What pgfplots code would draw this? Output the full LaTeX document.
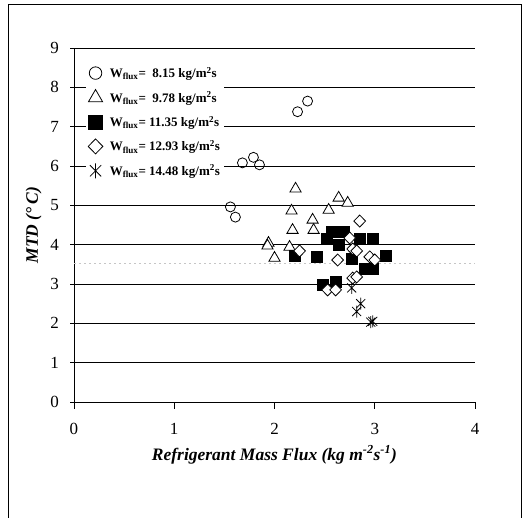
\documentclass[border=0pt]{standalone}
\usepackage{fontspec}
\setmainfont{Liberation Serif}
\usepackage{pgfplots}
\pgfplotsset{compat=1.18}
\pgfdeclareplotmark{xstar}{%
  \pgfpathmoveto{\pgfqpoint{0pt}{\pgfplotmarksize}}%
  \pgfpathlineto{\pgfqpoint{0pt}{-\pgfplotmarksize}}%
  \pgfpathmoveto{\pgfqpoint{-0.75\pgfplotmarksize}{0.75\pgfplotmarksize}}%
  \pgfpathlineto{\pgfqpoint{0.75\pgfplotmarksize}{-0.75\pgfplotmarksize}}%
  \pgfpathmoveto{\pgfqpoint{-0.75\pgfplotmarksize}{-0.75\pgfplotmarksize}}%
  \pgfpathlineto{\pgfqpoint{0.75\pgfplotmarksize}{0.75\pgfplotmarksize}}%
  \pgfusepathqstroke}
\begin{document}
\begin{tikzpicture}[x=1pt,y=1pt]
\begin{axis}[
  at={(0,0)}, anchor=south west,
  scale only axis, width=401pt, height=354pt,
  xmin=0, xmax=4, ymin=0, ymax=9,
  axis x line=bottom, axis y line=left,
  axis line style={-, black, line width=0.8pt},
  xtick={0,1,2,3,4}, ytick={0,1,...,9},
  ymajorgrids, grid style={black, line width=0.8pt},
  tick style={black, line width=0.8pt},
  major tick length=7pt,
  xtick align=outside, ytick align=center,
  tick label style={font=\fontsize{17}{17}\selectfont},
  /pgf/number format/assume math mode=true,
  xticklabel style={yshift=-11pt},
  yticklabel style={xshift=-8pt},
  xlabel={\textbf{\textit{Refrigerant Mass Flux (kg m\textsuperscript{-2}s\textsuperscript{-1})}}},
  ylabel={\textbf{\textit{MTD (\textdegree\,C)}}},
  label style={font=\fontsize{17.5}{17.5}\selectfont},
  xlabel style={yshift=-4pt},
  ylabel style={yshift=2pt},
  legend style={at={(axis cs:0.12,8.62)}, anchor=north west, draw=none, fill=white,
    font=\fontsize{13}{13}\selectfont\bfseries, row sep=8.5pt, inner sep=2pt},
  legend image post style={scale=1.25},
  legend cell align=left,
  clip=false,
]
\addplot[gray!45, line width=0.8pt, dash pattern=on 2pt off 3pt, forget plot] coordinates {(0,3.52) (4,3.52)};
\addplot[only marks, mark=o, mark size=5pt, mark options={black, fill=white, line width=0.8pt}] coordinates {
(1.56,4.96) (1.61,4.70) (1.68,6.08) (1.79,6.22) (1.85,6.03) (2.23,7.38) (2.33,7.65)
};
\addlegendentry{\hspace{5pt}W\textsubscript{flux}=~~8.15 kg/m\textsuperscript{2}s}
\addplot[only marks, mark=triangle*, mark size=6.5pt, mark options={black, fill=white, line width=0.8pt}] coordinates {
(2.21,5.42) (2.17,4.86) (2.18,4.37) (2.38,4.63) (2.39,4.37) (1.94,4.04) (1.93,3.97)
(2.00,3.66) (2.15,3.94) (2.64,5.19) (2.73,5.06) (2.54,4.88)
};
\addlegendentry{\hspace{5pt}W\textsubscript{flux}=~~9.78 kg/m\textsuperscript{2}s}
\addplot[only marks, mark=square*, mark size=5.5pt, mark options={black, fill=black, line width=0.8pt}] coordinates {
(2.20,3.71) (2.42,3.70) (2.52,4.14) (2.57,4.33) (2.69,4.33) (2.64,4.00) (2.85,4.14)
(2.98,4.14) (3.11,3.72) (2.77,3.63) (2.90,3.38) (2.98,3.38) (2.48,2.97) (2.61,3.05)
};
\addlegendentry{\hspace{5pt}W\textsubscript{flux}= 11.35 kg/m\textsuperscript{2}s}
\addplot[only marks, mark=diamond*, mark size=6pt, mark options={black, fill=white, line width=0.8pt, xscale=1.3}] coordinates {
(2.85,4.60) (2.75,4.17) (2.78,3.89) (2.82,3.84) (2.63,3.61) (2.95,3.69) (3.00,3.61)
(2.25,3.84) (2.78,3.15) (2.82,3.18) (2.53,2.85) (2.61,2.85)
};
\addlegendentry{\hspace{5pt}W\textsubscript{flux}= 12.93 kg/m\textsuperscript{2}s}
\addplot[only marks, mark=xstar, mark size=6pt, mark options={black, line width=0.8pt}] coordinates {
(2.77,2.90) (2.86,2.50) (2.82,2.30) (2.98,2.05) (2.96,2.03)
};
\addlegendentry{\hspace{5pt}W\textsubscript{flux}= 14.48 kg/m\textsuperscript{2}s}
\end{axis}
\draw[black, line width=1pt] (-65,-120) -- (-65,397) -- (447,397) -- (447,-120);
\pgfresetboundingbox
\path[use as bounding box] (-74,-116) rectangle (450,402);
\end{tikzpicture}
\end{document}
